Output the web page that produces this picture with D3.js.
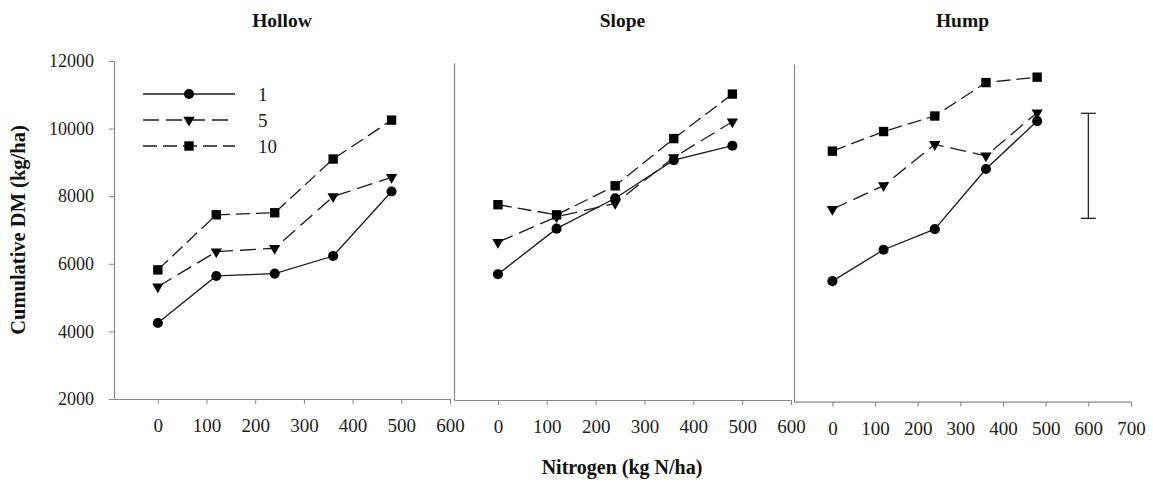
<!DOCTYPE html>
<html>
<head>
<meta charset="UTF-8">
<title>Cumulative DM</title>
<script src="https://d3js.org/d3.v7.min.js"></script>
<style>
  body { margin: 0; background: #fff; }
  svg { display: block; }
  .ttl { font-family: "Liberation Serif", "Times New Roman", serif; font-weight: bold; fill: #111; }
</style>
</head>
<body>
<script>
// data
var nitrogen = [0, 120, 240, 360, 480];
var seriesNames = ["1", "5", "10"];
var sites = ["Hollow", "Slope", "Hump"];

var hollow_1  = [4250, 5640, 5710, 6230, 8140];
var hollow_5  = [5320, 6360, 6460, 7990, 8560];
var hollow_10 = [5820, 7450, 7510, 9100, 10250];

var slope_1  = [5730, 7080, 7980, 9110, 9540];
var slope_5  = [6680, 7430, 7830, 9190, 10250];
var slope_10 = [7790, 7490, 8350, 9750, 11070];

var hump_1  = [5570, 6500, 7110, 8890, 10310];
var hump_5  = [7700, 8400, 9620, 9280, 10560];
var hump_10 = [9420, 10000, 10460, 11450, 11610];

var lsdN = 600;
var lsdRange = [7430, 10540];

var yTicks = [2000, 4000, 6000, 8000, 10000, 12000];
var xTicks6 = [0, 100, 200, 300, 400, 500, 600];
var xTicks7 = [0, 100, 200, 300, 400, 500, 600, 700];

var W = 1153, H = 486;
var svg = d3.select("body").append("svg")
    .attr("width", W)
    .attr("height", H);

svg.append("rect").attr("width", W).attr("height", H).attr("fill", "#fff");

var styles = [
  {dash: null,   sym: d3.symbolCircle,   size: 80, rot: 0},
  {dash: "16,7", sym: d3.symbolTriangle, size: 55, rot: 180},
  {dash: "14,6", sym: d3.symbolSquare,   size: 88, rot: 0}
];

var panels = [
  {left: 114, right: 450,  top: 61, bottom: 399,   xmax: 600, ticks: xTicks6, data: [hollow_1, hollow_5, hollow_10]},
  {left: 454, right: 791,  top: 62.7, bottom: 400, xmax: 600, ticks: xTicks6, data: [slope_1, slope_5, slope_10]},
  {left: 794, right: 1131, top: 64, bottom: 401.7, xmax: 700, ticks: xTicks7, data: [hump_1, hump_5, hump_10]}
];

var axisColor = "#888";
var lineColor = "#1a1a1a";
var serif = "'Liberation Serif', 'Times New Roman', serif";

panels.forEach(function(p, pi) {
  var x = d3.scaleLinear().domain([-90, p.xmax]).range([p.left, p.right]);
  var y = d3.scaleLinear().domain([2000, 12000]).range([p.bottom, p.top]);

  // x axis
  var gx = svg.append("g")
      .attr("transform", "translate(0," + p.bottom + ")")
      .call(d3.axisBottom(x).tickValues(p.ticks).tickFormat(d3.format("d"))
        .tickSize(5).tickSizeOuter(0).tickPadding(15));
  gx.selectAll("text").style("font-size", "19px").style("font-family", serif).attr("fill", "#222");

  // y axis
  var gy = svg.append("g").attr("transform", "translate(" + p.left + ",0)");
  if (pi === 0) {
    gy.call(d3.axisLeft(y).tickValues(yTicks).tickFormat(d3.format("d"))
      .tickSize(5).tickSizeOuter(0).tickPadding(15));
    gy.selectAll("text").style("font-size", "18px").style("font-family", serif).attr("fill", "#222");
  } else {
    gy.call(d3.axisLeft(y).tickValues([]).tickSizeOuter(0));
  }
  [gx, gy].forEach(function(g) {
    g.select(".domain").attr("stroke", axisColor).attr("stroke-width", 1.2);
    g.selectAll(".tick line").attr("stroke", axisColor);
  });

  // panel title
  svg.append("text").attr("class", "ttl")
      .attr("x", (p.left + p.right) / 2)
      .attr("y", 27)
      .attr("text-anchor", "middle")
      .style("font-size", "19.5px")
      .text(sites[pi]);

  var line = d3.line()
      .x(function(d, i) { return x(nitrogen[i]); })
      .y(function(d) { return y(d); });

  p.data.forEach(function(vals, si) {
    var st = styles[si];
    svg.append("path")
        .attr("d", line(vals))
        .attr("fill", "none")
        .attr("stroke", lineColor)
        .attr("stroke-width", 1.3)
        .attr("stroke-dasharray", st.dash);
    svg.selectAll(null).data(vals).enter().append("path")
        .attr("d", d3.symbol(st.sym, st.size))
        .attr("transform", function(d, i) {
          return "translate(" + x(nitrogen[i]) + "," + y(d) + ") rotate(" + st.rot + ")";
        })
        .attr("fill", "#000");
  });

  // LSD bar on the last panel
  if (pi === 2) {
    var bx = x(lsdN);
    svg.append("line").attr("x1", bx).attr("x2", bx)
        .attr("y1", y(lsdRange[0])).attr("y2", y(lsdRange[1]))
        .attr("stroke", "#222").attr("stroke-width", 1.3);
    lsdRange.forEach(function(v) {
      svg.append("line").attr("x1", bx - 7.5).attr("x2", bx + 7.5)
          .attr("y1", y(v)).attr("y2", y(v))
          .attr("stroke", "#222").attr("stroke-width", 1.3);
    });
  }
});

// legend
var leg = svg.append("g");
seriesNames.forEach(function(n, i) {
  var st = styles[i];
  var ly = 94 + i * 26;
  leg.append("line").attr("x1", 143).attr("x2", 235).attr("y1", ly).attr("y2", ly)
      .attr("stroke", lineColor).attr("stroke-width", 1.3)
      .attr("stroke-dasharray", st.dash);
  leg.append("path")
      .attr("d", d3.symbol(st.sym, st.size))
      .attr("transform", "translate(189," + ly + ") rotate(" + st.rot + ")")
      .attr("fill", "#000");
  leg.append("text")
      .attr("x", 258).attr("y", ly)
      .attr("dy", "0.35em")
      .style("font-family", serif)
      .style("font-size", "19px")
      .attr("fill", "#222")
      .text(n);
});

// axis titles
svg.append("text").attr("class", "ttl")
    .attr("transform", "translate(25,230) rotate(-90)")
    .attr("text-anchor", "middle")
    .style("font-size", "20.5px")
    .text("Cumulative DM (kg/ha)");

svg.append("text").attr("class", "ttl")
    .attr("x", 622).attr("y", 474)
    .attr("text-anchor", "middle")
    .style("font-size", "20px")
    .text("Nitrogen (kg N/ha)");
</script>
</body>
</html>
